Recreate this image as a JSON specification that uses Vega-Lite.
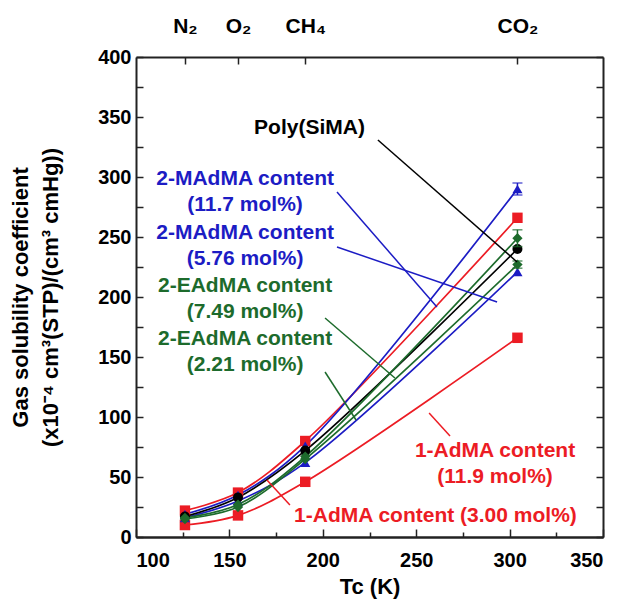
{
  "$schema": "https://vega.github.io/schema/vega-lite/v6.json",
  "width": 467,
  "height": 480,
  "autosize": "none",
  "padding": {"left": 136, "top": 57, "right": 36, "bottom": 67},
  "background": "white",
  "datasets": {
    "pts": [
      {"series": "AdMA3.00", "Tc": 126.2, "S": 22},
      {"series": "AdMA3.00", "Tc": 154.6, "S": 37},
      {"series": "AdMA3.00", "Tc": 190.6, "S": 80},
      {"series": "AdMA3.00", "Tc": 304.2, "S": 266},
      {"series": "AdMA11.9", "Tc": 126.2, "S": 10},
      {"series": "AdMA11.9", "Tc": 154.6, "S": 18},
      {"series": "AdMA11.9", "Tc": 190.6, "S": 46},
      {"series": "AdMA11.9", "Tc": 304.2, "S": 166},
      {"series": "MAdMA11.7", "Tc": 126.2, "S": 19},
      {"series": "MAdMA11.7", "Tc": 154.6, "S": 35},
      {"series": "MAdMA11.7", "Tc": 190.6, "S": 76},
      {"series": "MAdMA11.7", "Tc": 304.2, "S": 290},
      {"series": "MAdMA5.76", "Tc": 126.2, "S": 16},
      {"series": "MAdMA5.76", "Tc": 154.6, "S": 30},
      {"series": "MAdMA5.76", "Tc": 190.6, "S": 62},
      {"series": "MAdMA5.76", "Tc": 304.2, "S": 221},
      {"series": "PolySiMA", "Tc": 126.2, "S": 17},
      {"series": "PolySiMA", "Tc": 154.6, "S": 33},
      {"series": "PolySiMA", "Tc": 190.6, "S": 72},
      {"series": "PolySiMA", "Tc": 304.2, "S": 240},
      {"series": "EAdMA7.49", "Tc": 126.2, "S": 16},
      {"series": "EAdMA7.49", "Tc": 154.6, "S": 27},
      {"series": "EAdMA7.49", "Tc": 190.6, "S": 67},
      {"series": "EAdMA7.49", "Tc": 304.2, "S": 249},
      {"series": "EAdMA2.21", "Tc": 126.2, "S": 15},
      {"series": "EAdMA2.21", "Tc": 154.6, "S": 25},
      {"series": "EAdMA2.21", "Tc": 190.6, "S": 65},
      {"series": "EAdMA2.21", "Tc": 304.2, "S": 227}
    ],
    "err": [
      {"series": "MAdMA11.7", "Tc": 304.2, "lo": 285, "hi": 295},
      {"series": "EAdMA7.49", "Tc": 304.2, "lo": 242, "hi": 256},
      {"series": "EAdMA2.21", "Tc": 304.2, "lo": 224, "hi": 230}
    ],
    "leaders": [
      {"series": "PolySiMA", "x1": 229.5, "y1": 330.8, "x2": 304.0, "y2": 229.2},
      {"series": "MAdMA11.7", "x1": 207.6, "y1": 287.5, "x2": 261.1, "y2": 191.7},
      {"series": "MAdMA5.76", "x1": 207.6, "y1": 241.7, "x2": 293.3, "y2": 195.8},
      {"series": "EAdMA7.49", "x1": 201.2, "y1": 182.5, "x2": 238.6, "y2": 132.5},
      {"series": "EAdMA2.21", "x1": 201.2, "y1": 137.5, "x2": 217.8, "y2": 97.5},
      {"series": "AdMA11.9", "x1": 268.1, "y1": 84.2, "x2": 256.9, "y2": 103.3},
      {"series": "AdMA3.00", "x1": 182.4, "y1": 26.7, "x2": 170.1, "y2": 47.5}
    ],
    "labels": [
      {"series": "PolySiMA", "x": 192.9, "y": 340.8, "text": "Poly(SiMA)"},
      {"series": "MAdMA11.7", "x": 158.4, "y": 298.3, "text": "2-MAdMA content\n(11.7 mol%)"},
      {"series": "MAdMA5.76", "x": 158.4, "y": 253.3, "text": "2-MAdMA content\n(5.76 mol%)"},
      {"series": "EAdMA7.49", "x": 158.4, "y": 208.8, "text": "2-EAdMA content\n(7.49 mol%)"},
      {"series": "EAdMA2.21", "x": 158.4, "y": 164.6, "text": "2-EAdMA content\n(2.21 mol%)"},
      {"series": "AdMA11.9", "x": 292.2, "y": 71.5, "text": "1-AdMA content\n(11.9 mol%)"},
      {"series": "AdMA3.00", "x": 260.3, "y": 17.5, "text": "1-AdMA content (3.00 mol%)"}
    ]
  },
  "layer": [
    {
      "data": {"name": "pts"},
      "mark": {"type": "line", "interpolate": "catmull-rom", "strokeWidth": 1.7},
      "encoding": {
        "x": {"field": "Tc", "type": "quantitative",
          "scale": {"domain": [100, 350], "nice": false, "zero": false},
          "axis": {"orient": "bottom", "values": [100, 150, 200, 250, 300, 350], "tickSize": -8, "labelPadding": 21, "title": "Tc (K)", "titleFontSize": 22, "titlePadding": 6}},
        "y": {"field": "S", "type": "quantitative",
          "scale": {"domain": [0, 400], "nice": false},
          "axis": {"orient": "left", "values": [0, 25, 50, 75, 100, 125, 150, 175, 200, 225, 250, 275, 300, 325, 350, 375, 400],
            "labelExpr": "datum.value % 50 === 0 ? datum.label : ''", "tickSize": -7, "labelPadding": 12,
            "title": ["Gas solubility coefficient", "(x10⁻⁴ cm³(STP)/(cm³ cmHg))"], "titleFontSize": 22, "titlePadding": 35, "titleLineHeight": 30}},
        "color": {"field": "series", "type": "nominal", "legend": null,
          "scale": {"domain": ["PolySiMA", "MAdMA11.7", "MAdMA5.76", "EAdMA7.49", "EAdMA2.21", "AdMA3.00", "AdMA11.9"],
            "range": ["#000000", "#1c1cc4", "#1c1cc4", "#1d6b2c", "#1d6b2c", "#ec1c24", "#ec1c24"]}},
        "detail": {"field": "series"}
      }
    },
    {
      "data": {"name": "pts"},
      "mark": {"type": "point", "filled": true, "opacity": 1},
      "encoding": {
        "x": {"field": "Tc", "type": "quantitative",
          "axis": {"orient": "bottom", "values": [125, 175, 225, 275, 325], "tickSize": -5, "labels": false, "title": null}},
        "y": {"field": "S", "type": "quantitative",
          "axis": {"orient": "right", "values": [0, 25, 50, 75, 100, 125, 150, 175, 200, 225, 250, 275, 300, 325, 350, 375, 400], "tickSize": -7, "labels": false, "title": null}},
        "color": {"field": "series", "type": "nominal", "legend": null},
        "shape": {"field": "series", "type": "nominal", "legend": null,
          "scale": {"domain": ["PolySiMA", "MAdMA11.7", "MAdMA5.76", "EAdMA7.49", "EAdMA2.21", "AdMA3.00", "AdMA11.9"],
            "range": ["circle", "triangle-up", "triangle-up", "diamond", "diamond", "square", "square"]}},
        "size": {"field": "series", "type": "nominal", "legend": null,
          "scale": {"domain": ["PolySiMA", "MAdMA11.7", "MAdMA5.76", "EAdMA7.49", "EAdMA2.21", "AdMA3.00", "AdMA11.9"],
            "range": [100, 110, 110, 100, 100, 200, 200]}}
      }
    },
    {
      "data": {"name": "err"},
      "mark": {"type": "errorbar", "ticks": {"size": 10}, "thickness": 1.5},
      "encoding": {
        "x": {"field": "Tc", "type": "quantitative",
          "axis": {"orient": "top", "values": [126.2, 154.6, 190.6, 304.2], "tickSize": -7, "labelPadding": 28, "labelFontSize": 21, "title": null,
            "labelExpr": "round(datum.value) == 126 ? 'N₂' : round(datum.value) == 155 ? 'O₂' : round(datum.value) == 191 ? 'CH₄' : 'CO₂'"}},
        "y": {"field": "lo", "type": "quantitative", "axis": null},
        "y2": {"field": "hi"},
        "color": {"field": "series", "type": "nominal", "legend": null}
      }
    },
    {
      "data": {"name": "leaders"},
      "mark": {"type": "rule", "strokeWidth": 1.5},
      "encoding": {
        "x": {"field": "x1", "type": "quantitative", "axis": null},
        "y": {"field": "y1", "type": "quantitative", "axis": null},
        "x2": {"field": "x2"},
        "y2": {"field": "y2"},
        "color": {"field": "series", "type": "nominal", "legend": null}
      }
    },
    {
      "data": {"name": "labels"},
      "mark": {"type": "text", "lineBreak": "\n", "align": "center", "baseline": "middle", "font": "Liberation Sans", "fontWeight": "bold", "fontSize": 21, "lineHeight": 26},
      "encoding": {
        "x": {"field": "x", "type": "quantitative", "axis": null},
        "y": {"field": "y", "type": "quantitative", "axis": null},
        "text": {"field": "text"},
        "color": {"field": "series", "type": "nominal", "legend": null}
      }
    }
  ],
  "resolve": {"axis": {"x": "independent", "y": "independent"}},
  "config": {
    "view": {"stroke": null},
    "axis": {"grid": false, "domainColor": "#222222", "domainWidth": 2, "tickColor": "#222222", "tickWidth": 1.5,
      "labelFont": "Liberation Sans", "labelFontWeight": "bold", "labelFontSize": 20, "labelColor": "#000000",
      "titleFont": "Liberation Sans", "titleFontWeight": "bold", "titleFontSize": 20, "titleColor": "#000000"}
  }
}
